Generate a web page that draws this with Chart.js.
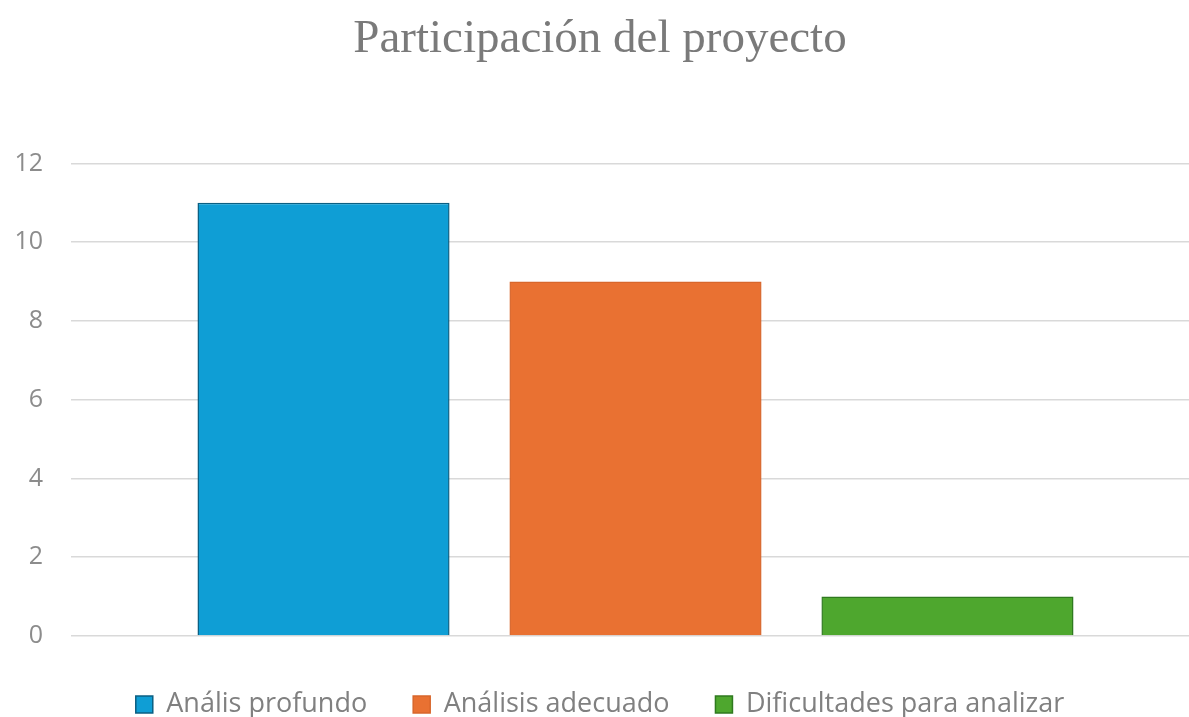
<!DOCTYPE html>
<html>
<head>
<meta charset="utf-8">
<script src="https://cdn.jsdelivr.net/npm/chart.js@4"></script>
<style>
  html, body { margin: 0; padding: 0; background: #fff; overflow: hidden; }
  #wrap { width: 1200px; height: 717px; position: relative; }
</style>
</head>
<body>
<div id="wrap"><canvas id="chart"></canvas></div>
<script>
const categories = [""];
const seriesNames = ["Anális profundo", "Análisis adecuado", "Dificultades para analizar"];
const seriesValues = [[11], [9], [1]];
const fillColors = ["#0F9ED5", "#E97132", "#4EA72E"];
const edgeColors = ["#0b5f82", "#d8662b", "#2f7a1f"];
const yTicks = [0, 2, 4, 6, 8, 10, 12];

const sans = "'Open Sans', Lato, sans-serif";

const ctx = document.getElementById("chart").getContext("2d");
new Chart(ctx, {
    type: "bar",
    data: {
        labels: categories,
        datasets: seriesNames.map((n, i) => ({
            label: n,
            data: seriesValues[i],
            backgroundColor: fillColors[i],
            borderColor: edgeColors[i],
            borderWidth: 1.5,
            categoryPercentage: 0.829,
            barPercentage: 0.808
        }))
    },
    options: {
        responsive: true,
        maintainAspectRatio: false,
        animation: false,
        layout: { padding: { left: 0, right: 0, top: 0, bottom: -11 } },
        plugins: {
            title: {
                display: true,
                text: "Participación del proyecto",
                color: "#7a7a7a",
                font: { family: "'Liberation Serif', 'DejaVu Serif', serif", size: 47, weight: "normal" },
                padding: { top: 11, bottom: 96 }
            },
            legend: {
                position: "bottom",
                labels: {
                    color: "#808080",
                    font: { family: sans, size: 27 },
                    boxWidth: 17,
                    boxHeight: 17,
                    padding: 46
                }
            },
            tooltip: { enabled: false }
        },
        scales: {
            x: {
                display: true,
                afterFit: s => { s.height = 9; },
                ticks: { display: false },
                grid: { display: false },
                border: { display: false }
            },
            y: {
                min: yTicks[0],
                max: yTicks[yTicks.length - 1],
                afterBuildTicks: s => { s.ticks = yTicks.map(v => ({ value: v })); },
                afterFit: s => { s.width = 71; },
                border: { display: false },
                grid: { color: "#d9d9d9", lineWidth: 1.5, drawTicks: false },
                ticks: { color: "#8c8c8c", font: { family: sans, size: 25 }, padding: 28 }
            }
        }
    }
});
</script>
</body>
</html>
